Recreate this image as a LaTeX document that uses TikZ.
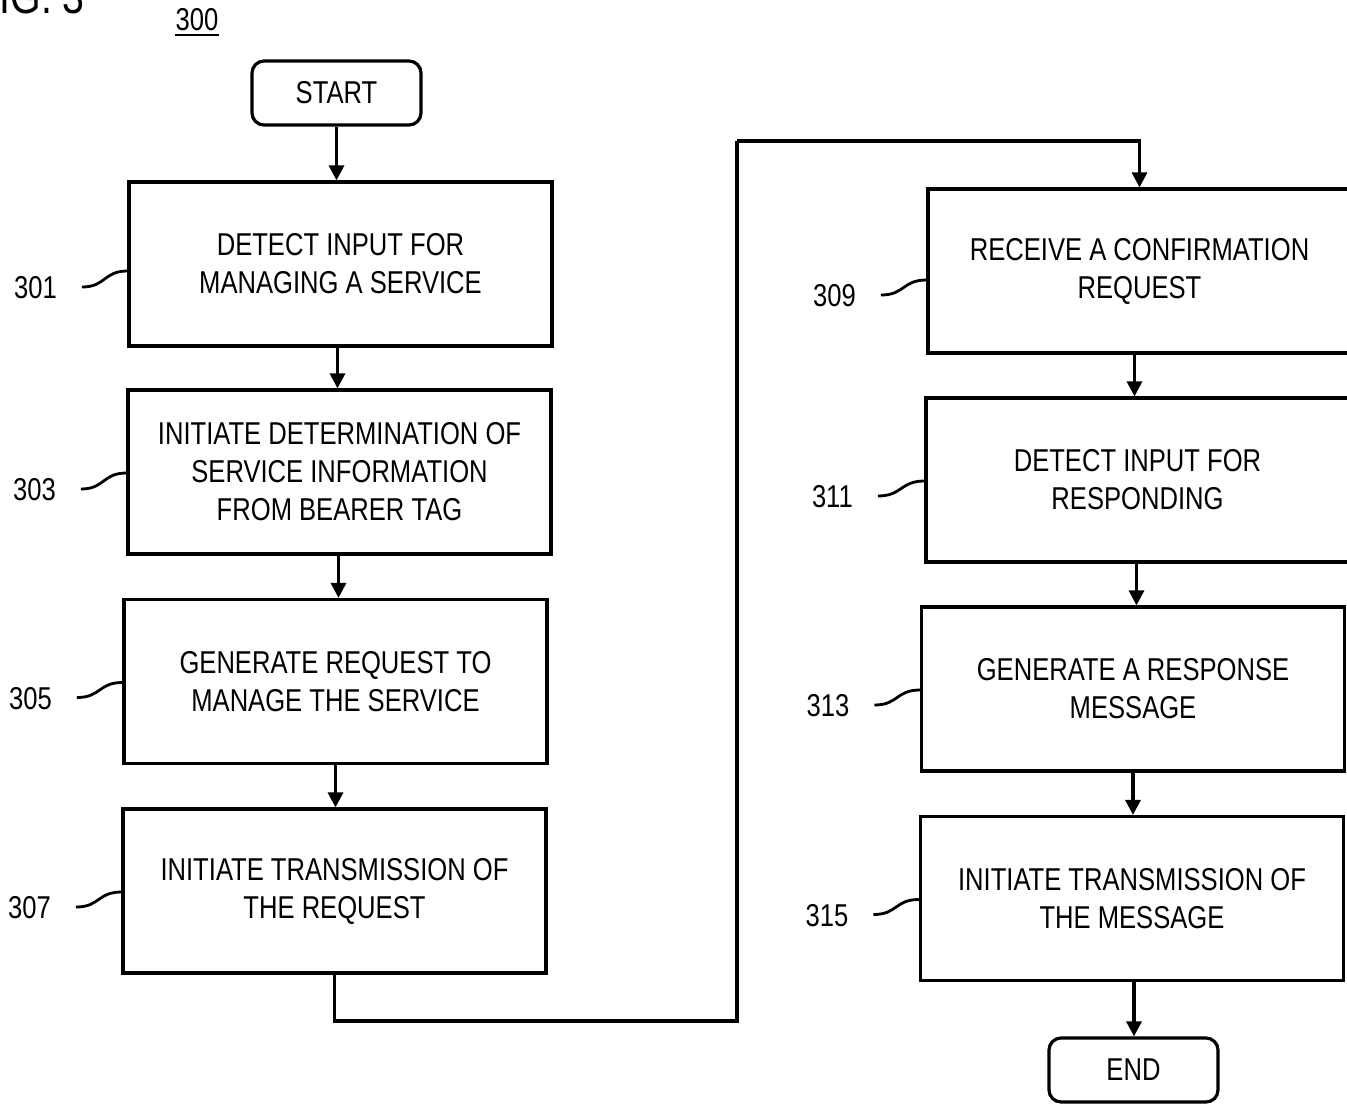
\documentclass[tikz,border=0pt]{standalone}
\usepackage{fontspec}
\setmainfont{Liberation Sans}[FakeStretch=0.81]
\usetikzlibrary{arrows.meta,calc}

% Step label with a wavy leader line running to the left side of its box
% #1 box, #2 numeral, #3 label drop below box centre, #4 leader end drop
\newcommand\steptag[4]{%
  \node[tag] (t#2) at ($(#1.west)+(-92,#3)$) {#2};
  \coordinate (s#2) at ($(t#2.east)+(25,-1)$);
  \coordinate (e#2) at ($(#1.west)+(0,#4)$);
  \draw[lead] (s#2) .. controls ($(s#2)+(24,0)$) and ($(e#2)+(-24,0)$) .. (e#2);
}

% Vertical flow arrow from box #1 to box #2, shifted sideways by #3
\newcommand\flowdown[3]{%
  \coordinate (o#1) at ($(#1.south)+(#3,0)$);
  \draw[flowarrow] (o#1) -- (o#1 |- #2.north);
}

\begin{document}
\begin{tikzpicture}[x=1pt,y=-1pt,
  every node/.style={font=\fontsize{31.6}{38}\selectfont},
  flowbox/.style={draw, line width=3.2pt, minimum width=423pt, minimum height=164pt,
    align=center, inner sep=0pt},
  termbox/.style={draw, line width=3.2pt, rounded corners=12pt, minimum width=169pt,
    minimum height=64pt, inner sep=0pt},
  flowarrow/.style={line width=3.2pt, -{Triangle[length=15pt,width=15pt]}},
  tag/.style={inner sep=0pt},
  lead/.style={line width=2.8pt},
]
\useasboundingbox (0,0) rectangle (1347,1106);

% figure caption and reference numeral
\node[anchor=base east, inner sep=0pt, font=\fontsize{48.5}{58}\selectfont] (fig) at (85,13) {FIG. 3};
\node[inner sep=0pt] (ref) at (197,20) {300};
\draw[line width=2pt] ($(ref.south west)+(0,4)$) -- ($(ref.south east)+(0,4)$);

% left column
\node[termbox] (start) at (336.5,93) {START};
\node[flowbox] (b301) at (340.5,264) {DETECT INPUT FOR\\MANAGING A SERVICE};
\node[flowbox] (b303) at (339.5,472) {INITIATE DETERMINATION OF\\SERVICE INFORMATION\\FROM BEARER TAG};
\node[flowbox] (b305) at (335.5,681.5) {GENERATE REQUEST TO\\MANAGE THE SERVICE};
\node[flowbox] (b307) at (334.5,891) {INITIATE TRANSMISSION OF\\THE REQUEST};

% right column
\node[flowbox] (b309) at (1139.5,271) {RECEIVE A CONFIRMATION\\REQUEST};
\node[flowbox] (b311) at (1137.5,480) {DETECT INPUT FOR\\RESPONDING};
\node[flowbox] (b313) at (1133,689) {GENERATE A RESPONSE\\MESSAGE};
\node[flowbox] (b315) at (1132,898.5) {INITIATE TRANSMISSION OF\\THE MESSAGE};
\node[termbox] (end) at (1133.5,1070) {END};

% step numerals
\steptag{b301}{301}{24}{7}
\steptag{b303}{303}{18}{1}
\steptag{b305}{305}{17}{1}
\steptag{b307}{307}{17}{1}
\steptag{b309}{309}{25}{9}
\steptag{b311}{311}{17}{1}
\steptag{b313}{313}{17}{1}
\steptag{b315}{315}{17}{1}

% flow
\flowdown{start}{b301}{0}
\flowdown{b301}{b303}{-3}
\flowdown{b303}{b305}{-1}
\flowdown{b305}{b307}{0}

\coordinate (loopA) at (737,1021);
\coordinate (loopB) at (737,141);
\draw[line width=3.2pt] (b307.south) |- (loopA) -- (loopB);
\draw[flowarrow] (loopB) -| (b309.north);

\flowdown{b309}{b311}{-5}
\flowdown{b311}{b313}{-1}
\flowdown{b313}{b315}{0}
\flowdown{b315}{end}{2}
\end{tikzpicture}
\end{document}
